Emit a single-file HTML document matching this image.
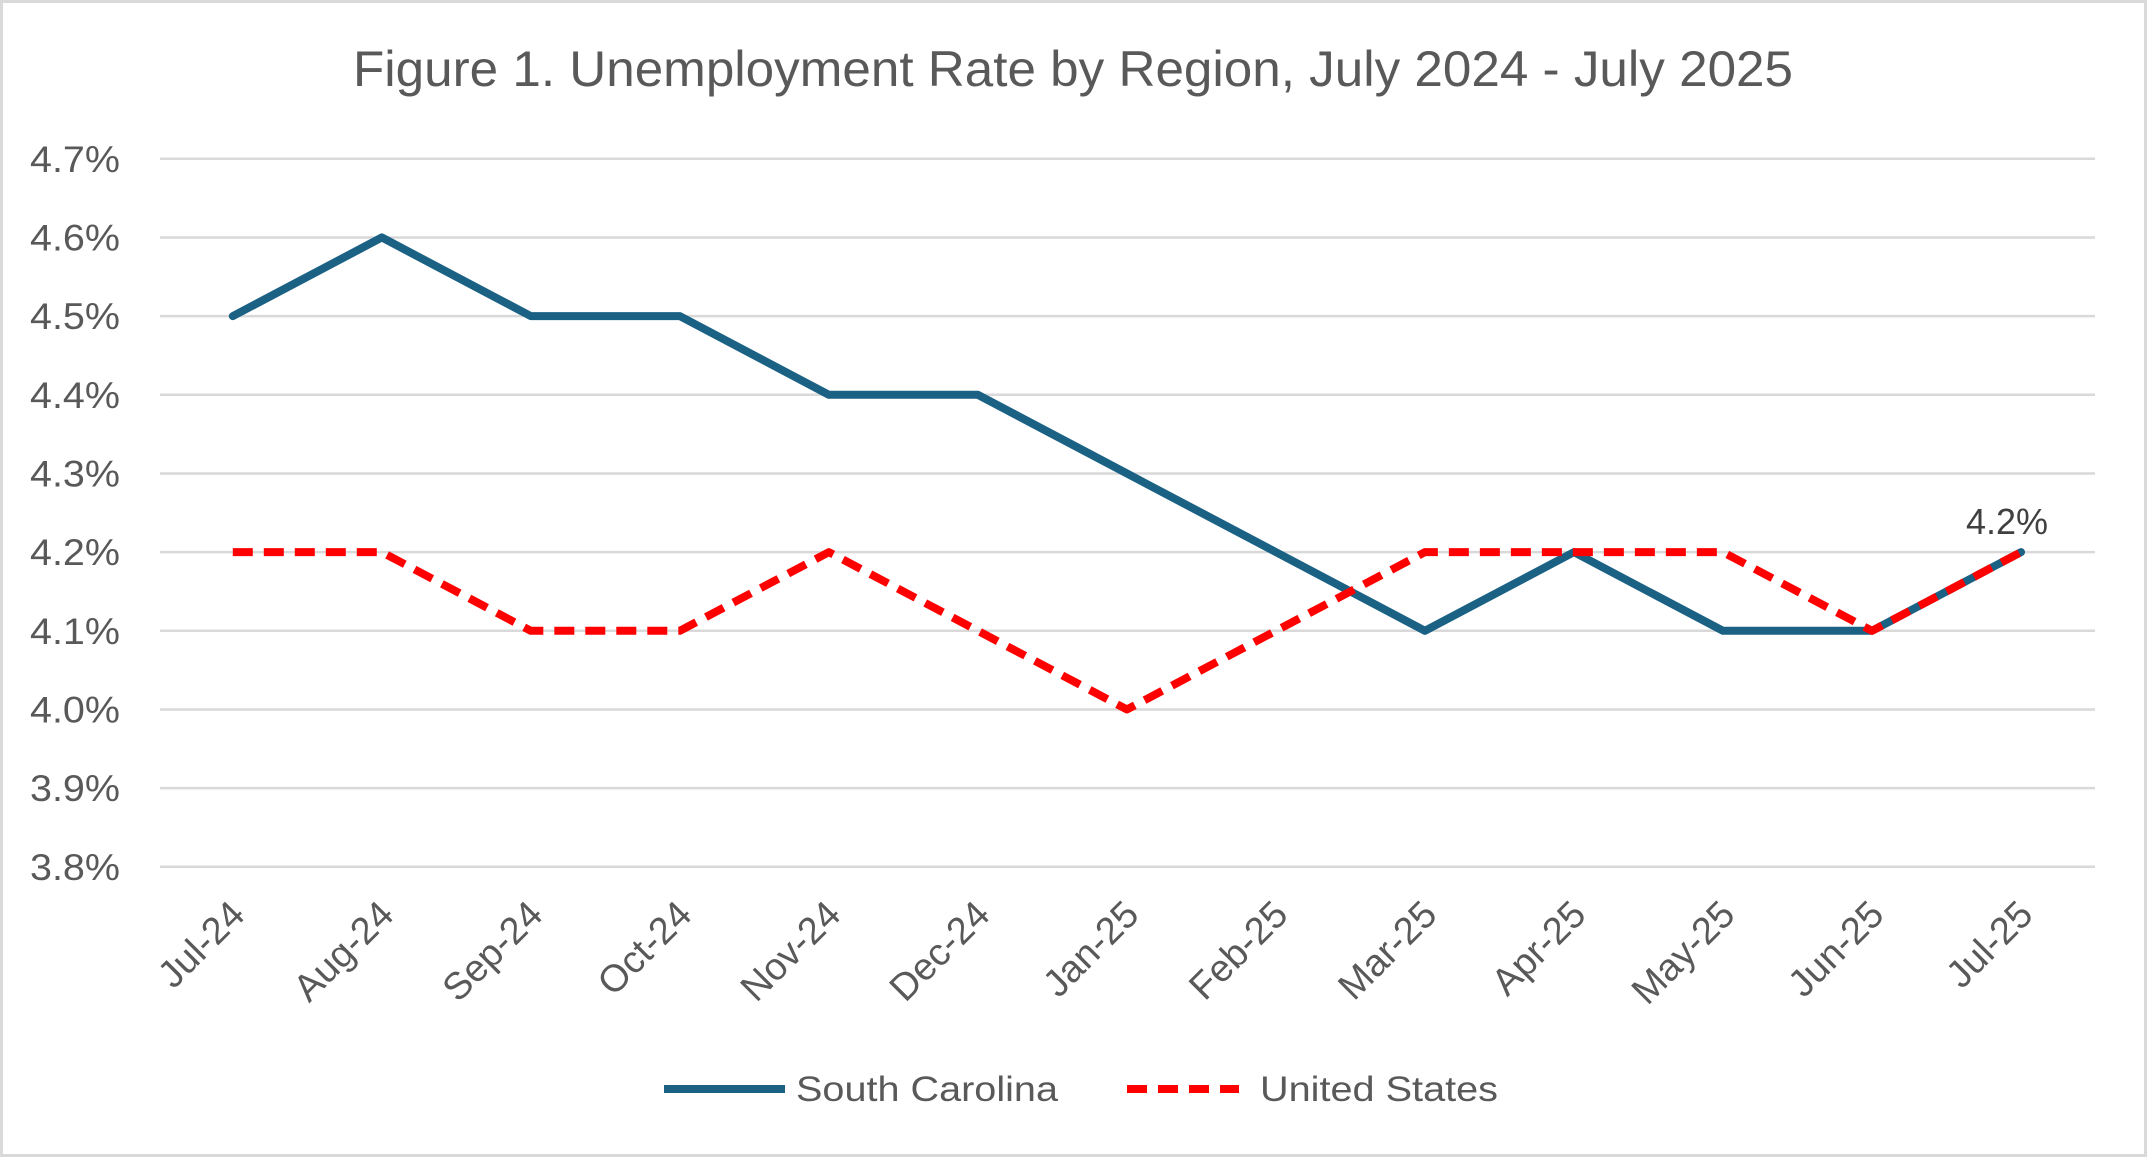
<!DOCTYPE html>
<html><head><meta charset="utf-8"><style>
html,body{margin:0;padding:0;background:#fff}
svg{display:block;font-family:"Liberation Sans",sans-serif}
</style></head><body>
<svg id="chart" width="2147" height="1157" viewBox="0 0 2147 1157">
<rect x="1.5" y="1.5" width="2144" height="1154" fill="#fff" stroke="#d9d9d9" stroke-width="3"/>
<text x="1073" y="86" text-anchor="middle" font-size="50" fill="#595959" textLength="1440" lengthAdjust="spacingAndGlyphs">Figure 1. Unemployment Rate by Region, July 2024 - July 2025</text>
<g id="grid"></g><g id="ylabels"></g><g id="xlabels"></g><g id="series"></g>
<g>
<line x1="664" y1="1089" x2="785" y2="1089" stroke="#1a6184" stroke-width="8"/>
<text x="796" y="1101" font-size="35" fill="#595959" textLength="262" lengthAdjust="spacingAndGlyphs">South Carolina</text>
<line x1="1127" y1="1089" x2="1239" y2="1089" stroke="#ff0000" stroke-width="8" stroke-dasharray="20,11"/>
<text x="1260" y="1101" font-size="35" fill="#595959" textLength="238" lengthAdjust="spacingAndGlyphs">United States</text>
</g>
</svg>
<script>
const categories=["Jul-24","Aug-24","Sep-24","Oct-24","Nov-24","Dec-24","Jan-25","Feb-25","Mar-25","Apr-25","May-25","Jun-25","Jul-25"];
const southCarolina=[4.5,4.6,4.5,4.5,4.4,4.4,4.3,4.2,4.1,4.2,4.1,4.1,4.2];
const unitedStates=[4.2,4.2,4.1,4.1,4.2,4.1,4.0,4.1,4.2,4.2,4.2,4.1,4.2];
const yTicks=[3.8,3.9,4.0,4.1,4.2,4.3,4.4,4.5,4.6,4.7];
const NS="http://www.w3.org/2000/svg";
const yMin=3.8,yMax=4.7,yTop=158.8,yBot=866.8;
const y=v=>yBot-(v-yMin)/(yMax-yMin)*(yBot-yTop);
const x0=232.8,x1=2021;
const x=i=>x0+i*(x1-x0)/(categories.length-1);
function mk(t,a,p){const e=document.createElementNS(NS,t);for(const k in a)e.setAttribute(k,a[k]);p.appendChild(e);return e;}
const grid=document.getElementById('grid'),yl=document.getElementById('ylabels'),xl=document.getElementById('xlabels'),se=document.getElementById('series');
yTicks.forEach(v=>{
 const l=mk('line',{x1:160,x2:2095,y1:y(v),y2:y(v),stroke:'#d9d9d9','stroke-width':2.5},grid);
 
 
 const t=mk('text',{x:120,y:y(v)+13,'text-anchor':'end','font-size':37,fill:'#595959',textLength:90,lengthAdjust:'spacingAndGlyphs'},yl);
 t.textContent=v.toFixed(1)+'%';
 
 
});
categories.forEach((c,i)=>{
 const t=mk('text',{x:0,y:0,'text-anchor':'end','font-size':38,fill:'#595959',transform:`translate(${x(i)+14},${y(3.8)+50}) rotate(-45)`},xl);
 t.textContent=c;
 
 
});
const pts=a=>a.map((v,i)=>x(i)+','+y(v)).join(' ');
const sc=mk('polyline',{points:pts(southCarolina),fill:'none',stroke:'#1a6184','stroke-width':8,'stroke-linejoin':'round','stroke-linecap':'round'},se);


const us=mk('polyline',{points:pts(unitedStates),fill:'none',stroke:'#ff0000','stroke-width':8,'stroke-dasharray':'20,11','stroke-linejoin':'round'},se);


const n=categories.length-1;
const dl=mk('text',{x:x(n)-14,y:y(unitedStates[n])-18,'text-anchor':'middle','font-size':36,fill:'#404040'},se);
dl.textContent=unitedStates[n].toFixed(1)+'%';


</script>
</body></html>
